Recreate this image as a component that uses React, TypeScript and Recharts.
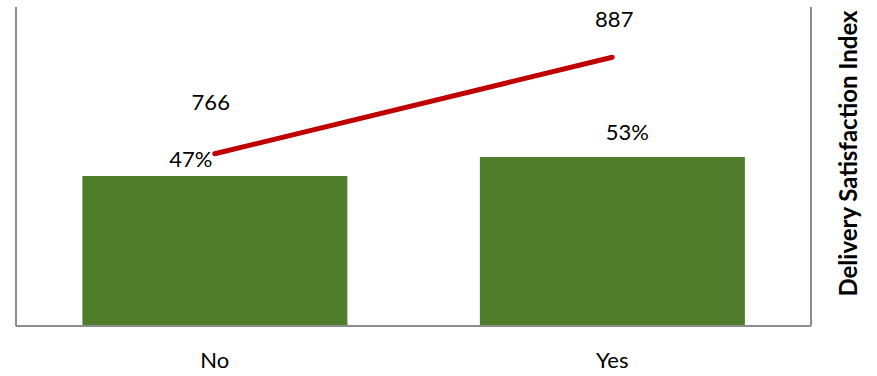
import React from 'react';
import { ComposedChart, Bar, Line, XAxis, YAxis, LabelList, Label } from 'recharts';

const categories = ['No', 'Yes'];
const shareValues = [47, 53];
const indexValues = [766, 887];

const data = categories.map((name, i) => ({
  name,
  share: shareValues[i],
  index: indexValues[i],
}));

// manual label nudges (the source had hand-placed data labels)
const shareLabelOffset = [
  { dx: -24, dy: -18 },
  { dx: 15, dy: -25 },
];
const indexLabelOffset = [
  { dx: -4, dy: -52 },
  { dx: 2, dy: -39 },
];

const FONT = 'Lato, "Open Sans", sans-serif';

const makeLabel = (offsets: { dx: number; dy: number }[], suffix: string, fromTop: boolean) =>
  (props: any) => {
    const { x, y, width, value, index } = props;
    const o = offsets[index] || { dx: 0, dy: 0 };
    const cx = fromTop ? x + width / 2 : x;
    return (
      <text
        x={cx + o.dx}
        y={y + o.dy}
        textAnchor="middle"
        dominantBaseline="central"
        fill="#000"
        fontSize={22}
        fontFamily={FONT}
      >
        {value}
        {suffix}
      </text>
    );
  };

const App: React.FC = () => {
  return (
    <div style={{ position: 'absolute', left: 0, top: 0, width: 877, height: 376, background: '#fff' }}>
      <ComposedChart
        width={877}
        height={376}
        data={data}
        margin={{ top: 7, right: 65, left: 15, bottom: 20 }}
        barCategoryGap="16.7%"
      >
        <XAxis
          dataKey="name"
          axisLine={{ stroke: '#8c8c8c', strokeWidth: 2 }}
          tickLine={false}
          tickSize={0}
          tickMargin={26}
          height={30}
          tick={{ fill: '#000', fontSize: 22, fontFamily: FONT }}
        />
        <YAxis
          yAxisId="left"
          domain={[0, 100]}
          width={1}
          tick={false}
          tickLine={false}
          axisLine={{ stroke: '#8c8c8c', strokeWidth: 2 }}
        />
        <YAxis
          yAxisId="right"
          orientation="right"
          domain={[550, 950]}
          width={1}
          tick={false}
          tickLine={false}
          axisLine={{ stroke: '#8c8c8c', strokeWidth: 2 }}
        >
          <Label
            value="Delivery Satisfaction Index"
            angle={-90}
            position="center"
            dx={37}
            dy={-13}
            style={{ fill: '#000', fontSize: 24, fontWeight: 700, fontFamily: FONT }}
          />
        </YAxis>
        <Bar yAxisId="left" dataKey="share" fill="#507D2C" isAnimationActive={false}>
          <LabelList dataKey="share" content={makeLabel(shareLabelOffset, '%', true)} />
        </Bar>
        <Line
          yAxisId="right"
          type="linear"
          dataKey="index"
          stroke="#C00000"
          strokeWidth={5}
          strokeLinecap="round"
          dot={false}
          isAnimationActive={false}
        >
          <LabelList dataKey="index" content={makeLabel(indexLabelOffset, '', false)} />
        </Line>
      </ComposedChart>
    </div>
  );
};

export default App;
